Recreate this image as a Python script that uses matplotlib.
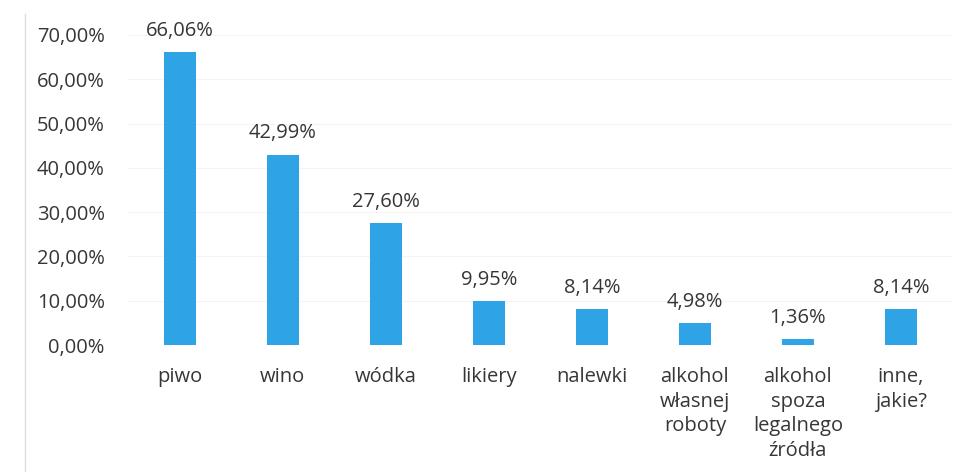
import matplotlib
matplotlib.use('Agg')
import matplotlib.pyplot as plt
from matplotlib.lines import Line2D

# Kategorie i udziały procentowe
kategorie = ['piwo', 'wino', 'wódka', 'likiery', 'nalewki',
             'alkohol\nwłasnej\nroboty', 'alkohol\nspoza\nlegalnego\nźródła',
             'inne,\njakie?']
wartosci = [66.06, 42.99, 27.60, 9.95, 8.14, 4.98, 1.36, 8.14]
ticki_y = [0, 10, 20, 30, 40, 50, 60, 70]

plt.rcParams['font.family'] = ['Open Sans', 'DejaVu Sans']
kolor_tekstu = '#363636'
rozmiar = 14.5

fig = plt.figure(figsize=(9.65, 4.72), dpi=100)
ax = fig.add_axes([0.133, 0.269, 0.854, 0.657])

x = range(len(kategorie))
ax.bar(x, wartosci, width=0.31, color='#2ea3e6', zorder=3)

for i, v in zip(x, wartosci):
    ax.annotate(f'{v:.2f}%'.replace('.', ','), (i, v), xytext=(0, 8),
                textcoords='offset points', ha='center', va='bottom',
                fontsize=rozmiar, color=kolor_tekstu, annotation_clip=False)

ax.set_xlim(-0.5, len(kategorie) - 0.5)
ax.set_ylim(0, 70)
ax.set_yticks(ticki_y)
ax.set_yticklabels([f'{t:.2f}%'.replace('.', ',') for t in ticki_y])
ax.set_xticks(list(x))
ax.set_xticklabels(kategorie, linespacing=1.3)

ax.tick_params(axis='both', length=0, labelsize=rozmiar, colors=kolor_tekstu)
ax.tick_params(axis='y', pad=17)
ax.tick_params(axis='x', pad=16)

ax.grid(axis='y', color='#f4f4f4', linewidth=0.8, zorder=0)
for s in ax.spines.values():
    s.set_visible(False)

# krawędź strony po lewej
fig.add_artist(Line2D([0.026, 0.026], [0, 0.97], color='#dddddd', linewidth=1.0))

fig.savefig('out.png', dpi=100)
